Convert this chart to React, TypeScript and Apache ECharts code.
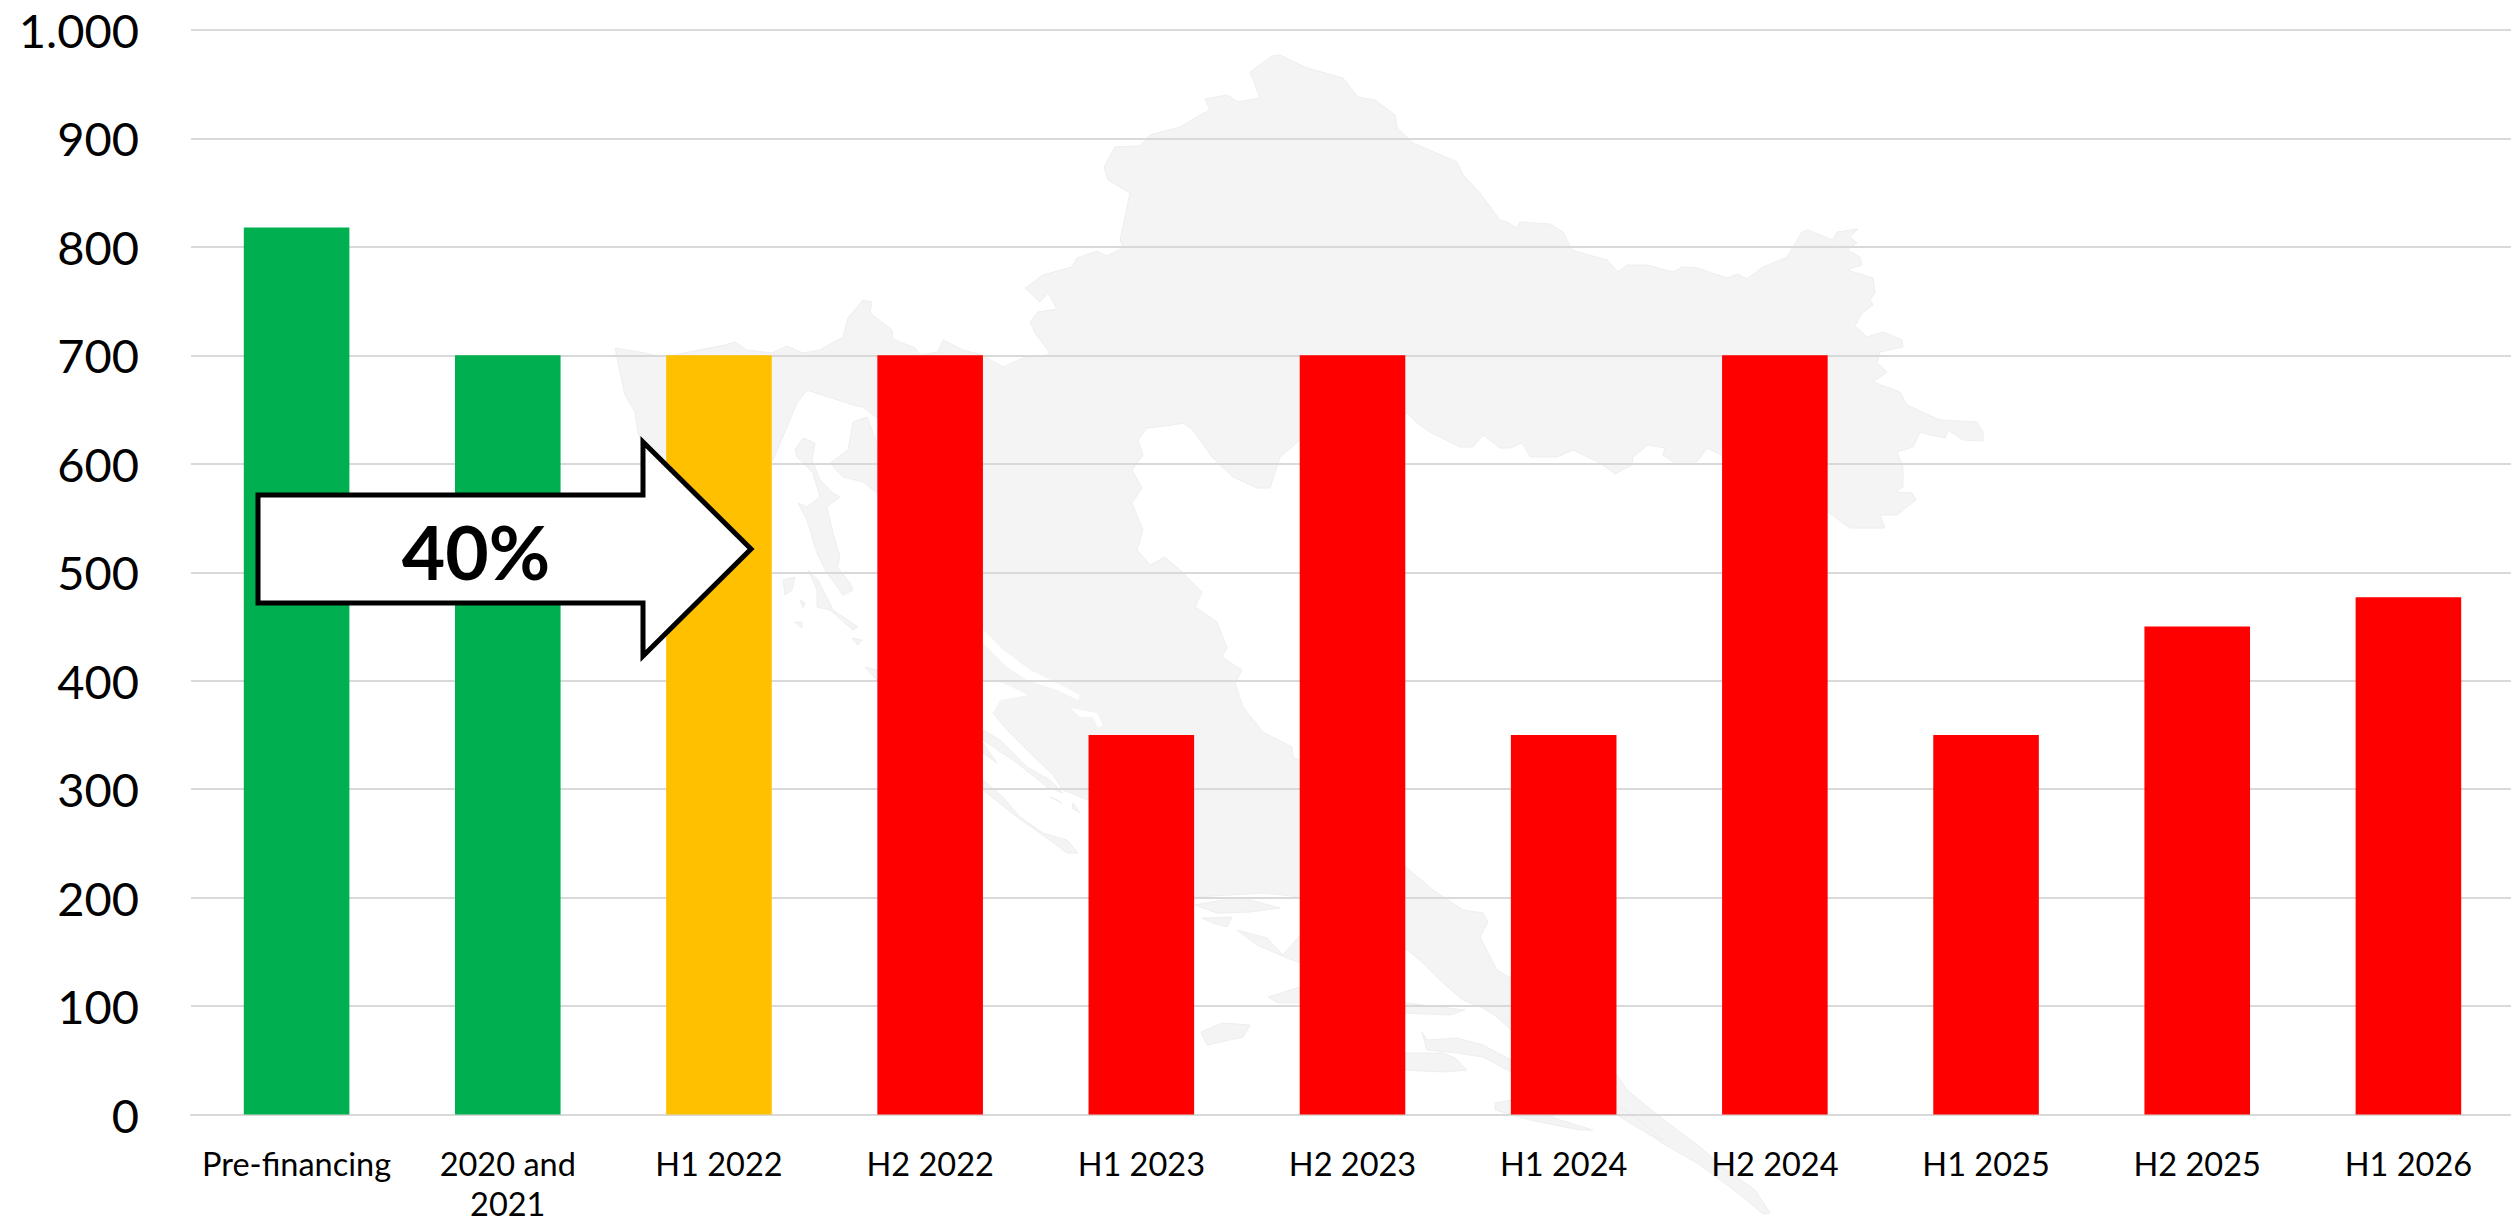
import React, { useEffect, useRef } from "react";
import * as echarts from "echarts";

const categories = ["Pre-financing", "2020 and\n2021", "H1 2022", "H2 2022", "H1 2023", "H2 2023", "H1 2024", "H2 2024", "H1 2025", "H2 2025", "H1 2026"];
const values = [818, 700, 700, 700, 350, 700, 350, 700, 350, 450, 477];
const barColors = ["#00B050", "#00B050", "#FFC000", "#FF0000", "#FF0000", "#FF0000", "#FF0000", "#FF0000", "#FF0000", "#FF0000", "#FF0000"];
const tickLabels = ["0", "100", "200", "300", "400", "500", "600", "700", "800", "900", "1.000"];
const arrowLabel = "40%";

// Decorative background map of Croatia, traced as [x, y] pixels of the picture.
const mainland: number[][] = [
  [615,348],[640,352],[663,357],[725,345],[735,342],[747,350],[772,353],[787,346],[803,353],[820,350],[843,337],[848,318],[863,300],[872,302],[870,313],[892,330],[893,339],[915,348],[920,355],[938,352],[943,340],[963,350],[982,355],[1003,367],[1023,358],[1047,355],
  [1050,353],[1035,333],[1030,322],[1038,312],[1057,309],[1048,293],[1040,302],[1025,288],[1043,275],[1072,267],[1077,258],[1097,251],[1107,256],[1123,248],[1120,240],[1125,217],[1130,193],[1108,180],[1104,167],[1115,147],[1140,146],[1150,135],[1180,127],[1200,115],[1210,110],[1205,99],[1227,95],[1238,102],[1260,98],[1250,72],[1272,56],[1280,55],[1307,68],[1343,78],[1358,97],[1375,100],[1395,115],[1397,128],[1413,143],[1457,162],[1463,175],[1480,193],[1500,220],
  [1507,222],[1517,228],[1520,222],[1550,224],[1563,232],[1572,250],[1607,260],[1618,272],[1627,265],[1647,265],[1673,272],[1682,267],[1697,268],[1727,278],[1738,274],[1747,279],[1763,267],[1787,257],[1802,232],[1808,230],[1833,240],[1837,232],[1858,229],[1850,237],[1857,243],[1847,250],[1860,257],[1862,265],[1847,270],[1873,278],[1875,293],[1870,300],[1873,305],[1862,313],[1855,326],[1867,337],[1883,332],[1902,340],[1903,347],[1880,352],[1877,363],[1887,372],[1873,382],[1900,392],[1907,405],[1940,420],[1977,422],[1983,432],[1983,441],[1963,440],[1948,430],[1945,438],[1930,435],[1920,432],[1913,447],[1897,452],[1903,467],[1903,487],[1895,492],[1912,493],[1916,500],[1897,515],[1880,515],[1885,528],[1850,528],[1828,512],[1828,487],
  [1722,455],[1707,448],[1697,462],[1673,462],[1663,455],[1665,448],[1648,445],[1633,457],[1632,465],[1615,474],[1600,463],[1573,450],[1557,457],[1530,457],[1522,443],[1510,448],[1500,448],[1483,435],[1473,447],[1460,447],[1430,432],[1417,423],[1407,413],[1300,440],[1280,457],[1270,488],[1257,488],[1233,477],[1212,457],[1193,430],[1183,423],[1173,425],[1147,428],[1138,440],[1143,455],[1132,470],[1142,488],[1132,503],[1143,530],[1137,550],
  [1150,565],[1165,557],[1180,570],[1202,592],[1195,607],[1217,622],[1227,648],[1222,657],[1242,670],[1235,683],[1243,707],[1263,732],[1292,747],[1293,757],[1300,760],[1407,868],[1433,890],[1463,910],[1483,913],[1488,922],[1480,937],[1497,970],[1511,978],[1617,1075],[1627,1090],[1660,1117],[1700,1147],[1727,1170],[1755,1190],[1770,1213],[1763,1214],[1743,1197],[1707,1170],[1697,1163],[1660,1142],[1617,1107],[1511,1030],[1497,1017],[1483,1008],[1463,1000],[1443,983],[1423,963],[1405,948],[1300,897],[1263,893],[1194,897],[1088,800],[1063,790],[1053,775],[1030,753],[1007,730],[993,713],[997,702],[983,693],
  [880,420],[863,407],[853,405],[807,390],[797,403],[787,427],[773,460],[700,487],[643,447],[638,433],[635,412],[625,395],[620,372],
];
const islands: number[][][] = [
  [[830,463],[848,450],[853,422],[867,417],[877,443],[877,493],[863,482],[843,477]],
  [[795,450],[803,438],[815,443],[812,460],[820,480],[833,493],[840,497],[827,507],[833,533],[840,557],[837,567],[850,583],[853,590],[843,595],[827,573],[817,553],[807,520],[798,503],[807,507],[820,497],[813,473],[797,457]],
  [[808,570],[817,590],[817,607],[830,610],[853,630],[858,627],[833,610],[818,580]],
  [[783,580],[795,577],[792,590],[785,595]],
  [[800,600],[805,603],[803,608]],[[795,622],[802,622],[802,628]],[[852,638],[862,640],[858,645]],
  [[865,667],[877,680],[877,670]],
  [[983,730],[1000,740],[1027,767],[1050,780],[1063,793],[1047,787],[1017,763],[983,740]],
  [[983,743],[997,763],[983,753]],
  [[983,780],[1003,797],[1020,817],[1043,833],[1067,840],[1078,853],[1067,853],[1040,833],[1017,817],[983,790]],
  [[1073,803],[1080,813],[1072,808]],[[1050,797],[1062,803],[1057,800]],
  [[1195,905],[1223,900],[1250,900],[1280,908],[1250,912],[1217,913]],
  [[1202,918],[1232,917],[1227,927],[1213,923]],
  [[1237,930],[1267,938],[1283,955],[1300,935],[1300,963],[1280,955],[1257,945]],
  [[1268,997],[1300,987],[1300,1003],[1278,1003]],
  [[1201,1032],[1222,1023],[1250,1025],[1243,1037],[1207,1045]],
  [[1405,1003],[1423,1005],[1465,1010],[1450,1015],[1405,1013]],
  [[1422,1032],[1427,1040],[1457,1038],[1483,1045],[1511,1060],[1511,1072],[1483,1057],[1457,1053],[1427,1050]],
  [[1405,1053],[1443,1053],[1455,1058],[1467,1070],[1443,1072],[1405,1070]],
  [[1495,1103],[1511,1100],[1560,1120],[1593,1130],[1580,1130],[1530,1120],[1495,1110]],
  [[1617,1105],[1640,1120],[1663,1140],[1650,1135],[1617,1115]],
];
const waters: number[][][] = [
  [[983,630],[1003,650],[1030,670],[1057,683],[1080,695],[1078,700],[1057,690],[1027,680],[1007,667],[983,643]],
  [[1070,708],[1097,713],[1103,725],[1098,728],[1093,717],[1080,717]],
  [[983,680],[1003,683],[1028,695],[1000,700],[993,713],[983,693]],
];

const arrowPoints = [[258,495],[643,495],[643,442],[751,549],[643,656],[643,603],[258,603]];

const mapFill = { fill: "#F4F4F4", stroke: "#EEEEEE", lineWidth: 1 };

export default function App() {
  const ref = useRef<HTMLDivElement>(null);
  useEffect(() => {
    document.body.style.margin = "0";
    const chart = echarts.init(ref.current!, null, { renderer: "svg" });
    const decor: any[] = [
      { type: "polygon", silent: true, z: -3, shape: { points: mainland }, style: mapFill },
      ...waters.map((p) => ({ type: "polygon", silent: true, z: -2, shape: { points: p }, style: { fill: "#FFFFFF" } })),
      ...islands.map((p) => ({ type: "polygon", silent: true, z: -1, shape: { points: p }, style: mapFill })),
      {
        type: "polygon", silent: true, z: 10,
        shape: { points: arrowPoints },
        style: { fill: "#FFFFFF", stroke: "#000000", lineWidth: 5, lineJoin: "miter", miterLimit: 10 },
      },
      {
        type: "text", silent: true, z: 11, x: 476, y: 551,
        style: { text: arrowLabel, fill: "#000000", fontFamily: "Lato", fontWeight: "bold", fontSize: 75, align: "center", verticalAlign: "middle" },
      },
    ];
    chart.setOption({
      animation: false,
      backgroundColor: "#FFFFFF",
      grid: { left: 191, top: 30, width: 2323, height: 1084.5, containLabel: false, outerBoundsMode: "none" },
      xAxis: {
        type: "category",
        data: categories,
        axisLine: { lineStyle: { color: "#D9D9D9", width: 2 } },
        axisTick: { show: false },
        axisLabel: { color: "#000000", fontFamily: "Lato", fontSize: 32.5, lineHeight: 40, margin: 29, interval: 0 },
      },
      yAxis: {
        type: "value",
        min: 0,
        max: 1000,
        interval: 100,
        axisLine: { show: false },
        axisTick: { show: false },
        splitLine: { lineStyle: { color: "#D9D9D9", width: 2 } },
        axisLabel: {
          color: "#000000",
          fontFamily: "Lato",
          fontSize: 47,
          margin: 52,
          formatter: (_v: number, i: number) => tickLabels[i],
        },
      },
      series: [
        {
          type: "bar",
          barWidth: "50%",
          data: values.map((v, i) => ({ value: v, itemStyle: { color: barColors[i] } })),
        },
      ],
      graphic: decor,
    });
    return () => chart.dispose();
  }, []);
  return <div ref={ref} style={{ position: "absolute", left: 0, top: 0, width: 2511, height: 1224 }} />;
}
